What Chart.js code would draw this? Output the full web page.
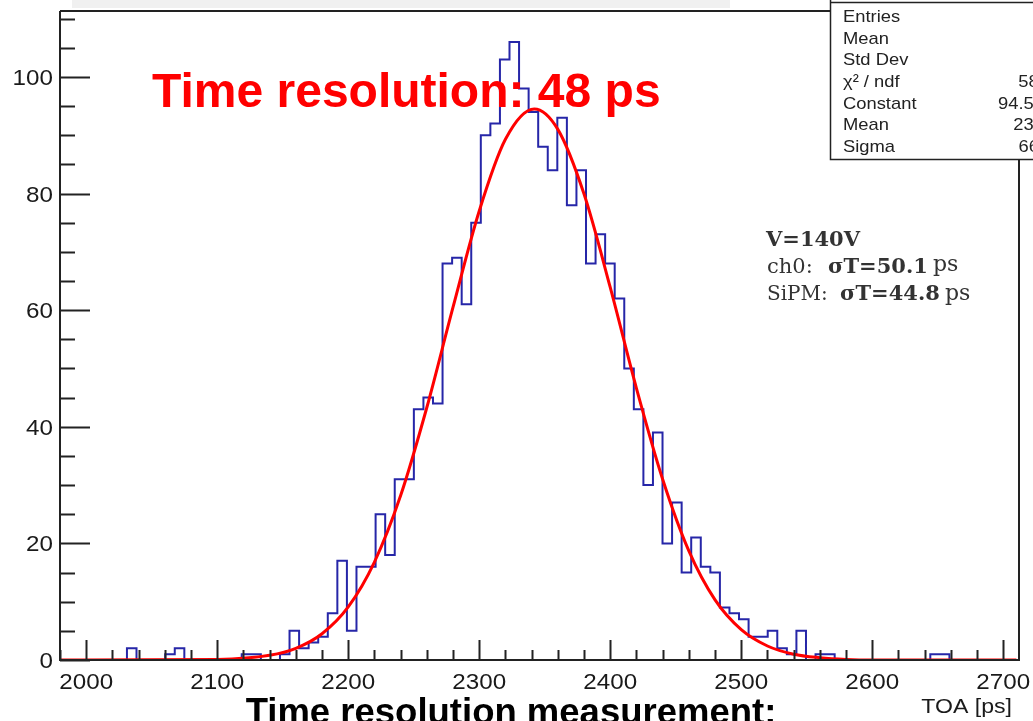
<!DOCTYPE html>
<html>
<head>
<meta charset="utf-8">
<script src="https://cdn.jsdelivr.net/npm/chart.js@4.4.0/dist/chart.umd.min.js"></script>
<style>
  html, body { margin: 0; padding: 0; background: #fff; }
  canvas { display: block; }
</style>
</head>
<body>
<canvas id="toaHist" width="1033" height="721"></canvas>
<script>
// TOA histogram, 100 bins between 1980 and 2710 ps
const histMin = 1980;
const histMax = 2710;
const binCounts = [
  0, 0, 0, 0, 0, 0, 0, 2, 0, 0,
  0, 1, 2, 0, 0, 0, 0, 0, 0, 1,
  1, 0, 0, 1, 5, 2, 3, 4, 8, 17,
  5, 16, 16, 25, 18, 31, 31, 43, 45, 44,
  68, 69, 61, 75, 90, 92, 103, 106, 98, 94,
  88, 84, 93, 78, 84, 68, 73, 68, 62, 50,
  43, 30, 39, 20, 27, 15, 21, 16, 15, 9,
  8, 7, 4, 4, 5, 2, 1, 5, 0, 1,
  1, 0, 0, 0, 0, 0, 0, 0, 0, 0,
  0, 1, 1, 0, 0, 0, 0, 0, 0, 0
];

// gaussian fit curve
const fitX = [1980, 2100, 2140, 2160, 2180, 2200, 2220, 2240, 2260, 2280, 2300, 2320, 2342,
              2360, 2380, 2400, 2420, 2440, 2460, 2480, 2500, 2520, 2540, 2560, 2580, 2600, 2710];
const fitY = [0, 0.1, 0.8, 2.0, 4.5, 9.1, 16.8, 28.2, 43.3, 60.5, 77.0, 89.3, 94.5,
              91.0, 79.9, 63.9, 46.6, 31.0, 18.7, 10.3, 5.2, 2.4, 1.0, 0.4, 0.1, 0, 0];

const xMajorTicks = [2000, 2100, 2200, 2300, 2400, 2500, 2600, 2700];
const yMajorTicks = [0, 20, 40, 60, 80, 100];

const statLabels = ['Entries', 'Mean', 'Std Dev', 'χ² / ndf', 'Constant', 'Mean', 'Sigma'];
const statValues = ['2936', '2339', '67.25', '58.37 / 56', '94.56 ± 2.21', '2342 ± 1.3', '66.0 ± 1.0'];

const binWidth = (histMax - histMin) / binCounts.length;
const histPoints = binCounts.map((c, i) => ({ x: histMin + i * binWidth, y: c }));
histPoints.push({ x: histMax, y: 0 });
const fitPoints = fitX.map((x, i) => ({ x: x, y: fitY[i] }));

const SANS = '"Liberation Sans", Arial, sans-serif';
const SERIF = '"DejaVu Serif", "Liberation Serif", serif';

// ROOT plot was pasted stretched sideways, so its own texts are wider
function wideText(ctx, text, x, y, sx, align) {
  ctx.save();
  ctx.translate(x, y);
  ctx.scale(sx, 1);
  ctx.textAlign = align;
  ctx.fillText(text, 0, 0);
  ctx.restore();
}

const rootFrame = {
  id: 'rootFrame',
  beforeDraw(chart) {
    const ctx = chart.ctx;
    ctx.save();
    ctx.fillStyle = '#fff';
    ctx.fillRect(0, 0, chart.width, chart.height);
    ctx.fillStyle = '#f0f0f0';
    ctx.fillRect(72, 0, 658, 8);
    ctx.restore();
  },
  afterDatasetsDraw(chart) {
    const ctx = chart.ctx;
    const xs = chart.scales.x, ys = chart.scales.y;
    const a = chart.chartArea;
    ctx.save();
    ctx.strokeStyle = '#222';
    ctx.lineWidth = 2;

    // frame
    ctx.beginPath();
    ctx.moveTo(a.left, a.top); ctx.lineTo(830, a.top);
    ctx.moveTo(a.left, a.top); ctx.lineTo(a.left, a.bottom); ctx.lineTo(a.right, a.bottom);
    ctx.lineTo(a.right, 159);
    ctx.stroke();

    // y ticks
    ctx.beginPath();
    for (let v = 0; v <= 110; v += 5) {
      const py = Math.round(ys.getPixelForValue(v)) + 0.5;
      const len = v % 20 === 0 ? 30 : 15;
      ctx.moveTo(a.left, py); ctx.lineTo(a.left + len, py);
    }
    // x ticks
    for (let v = 1980; v <= 2700; v += 20) {
      const px = Math.round(xs.getPixelForValue(v)) + 0.5;
      const len = v % 100 === 0 ? 20 : 10;
      ctx.moveTo(px, a.bottom); ctx.lineTo(px, a.bottom - len);
    }
    ctx.stroke();

    // tick labels
    ctx.fillStyle = '#1a1a1a';
    ctx.font = '22px ' + SANS;
    yMajorTicks.forEach(v => wideText(ctx, String(v), 53, ys.getPixelForValue(v) + 8, 1.1, 'right'));
    xMajorTicks.forEach(v => wideText(ctx, String(v), xs.getPixelForValue(v), 689, 1.1, 'center'));
    ctx.font = '21px ' + SANS;
    wideText(ctx, 'TOA [ps]', 1012, 713, 1.1, 'right');

    // stats box
    ctx.fillStyle = '#fff';
    ctx.fillRect(830, -20, 230, 179);
    ctx.lineWidth = 1.5;
    ctx.strokeStyle = '#222';
    ctx.strokeRect(830.5, -20, 230, 179.5);
    ctx.beginPath(); ctx.moveTo(830, 2.5); ctx.lineTo(1033, 2.5); ctx.stroke();
    ctx.fillStyle = '#222';
    ctx.font = '17px ' + SANS;
    statLabels.forEach((t, i) => {
      wideText(ctx, t, 843, 22 + 21.65 * i, 1.08, 'left');
      wideText(ctx, statValues[i], 1100, 22 + 21.65 * i, 1.08, 'right');
    });

    // slide texts
    ctx.fillStyle = '#ff0000';
    ctx.font = 'bold 48px ' + SANS;
    ctx.textAlign = 'left';
    ctx.fillText('Time resolution: 48 ps', 152, 107);

    ctx.fillStyle = '#000';
    ctx.font = 'bold 36.5px ' + SANS;
    ctx.textAlign = 'center';
    ctx.fillText('Time resolution measurement:', 511, 724);

    ctx.fillStyle = '#333';
    ctx.textAlign = 'left';
    ctx.font = 'bold 21px ' + SERIF;
    ctx.fillText('V=140V', 766, 246);
    ctx.font = '21px ' + SERIF;
    ctx.fillText('ch0:', 767, 273);
    ctx.font = '20px ' + SERIF;
    ctx.fillText('SiPM:', 767, 300);
    ctx.font = 'bold 21px ' + SERIF;
    ctx.fillText('σT=50.1', 828, 273);
    ctx.fillText('σT=44.8', 840, 300);
    ctx.font = '22px ' + SERIF;
    ctx.fillText('ps', 933, 271);
    ctx.fillText('ps', 945, 300);
    ctx.restore();
  }
};

new Chart(document.getElementById('toaHist'), {
  type: 'line',
  data: {
    datasets: [{
      data: fitPoints,
      borderColor: '#ff0000',
      borderWidth: 3,
      pointRadius: 0,
      cubicInterpolationMode: 'monotone',
      fill: false,
      order: 0
    }, {
      data: histPoints,
      borderColor: '#2626a8',
      borderWidth: 2,
      pointRadius: 0,
      stepped: 'before',
      fill: false,
      order: 1
    }]
  },
  options: {
    responsive: false,
    animation: false,
    devicePixelRatio: 1,
    events: [],
    layout: { padding: { left: 60, top: 11, right: 14, bottom: 61 } },
    plugins: {
      legend: { display: false },
      tooltip: { enabled: false }
    },
    scales: {
      x: { type: 'linear', min: 1980, max: 2712, display: false },
      y: { type: 'linear', min: 0, max: 111.3, display: false }
    }
  },
  plugins: [rootFrame]
});
</script>
</body>
</html>
